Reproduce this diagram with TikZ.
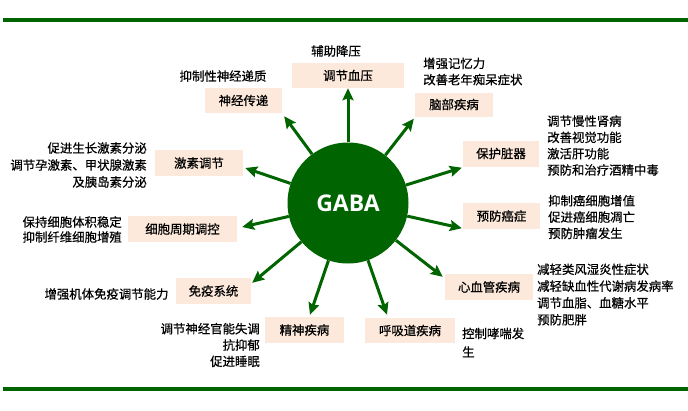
\documentclass[tikz,border=0pt]{standalone}
\usepackage{fontspec}
\setmainfont{Noto Sans CJK SC}[FakeBold=0.6]
\newfontfamily\gabafont{Open Sans}
\usetikzlibrary{arrows.meta}
\definecolor{gGreen}{RGB}{0,100,0}
\definecolor{boxPeach}{RGB}{252,233,219}
\tikzset{
  box/.style={fill=boxPeach, draw=none, inner sep=0pt, font=\fontsize{12.4}{15}\selectfont},
  lbl/.style={inner sep=0pt, font=\fontsize{12.4}{16.3}\selectfont},
  arr/.style={draw=gGreen, line width=3pt, -{Stealth[length=12pt,width=11pt,inset=2pt]}},
  rule/.style={draw=gGreen, line width=3.5pt}
}
\begin{document}
\begin{tikzpicture}[x=1pt,y=-1pt]
\useasboundingbox (0,0) rectangle (688,410);
% rules
\coordinate (t1) at (3,20); \coordinate (t2) at (688,20);
\coordinate (b1) at (3,389); \coordinate (b2) at (688,389);
\draw[rule] (t1) -- (t2);
\draw[rule] (b1) -- (b2);
% centre
\node[circle, fill=gGreen, minimum size=121pt, inner sep=0pt, text=white,
      font=\gabafont\bfseries\fontsize{23}{26}\selectfont] (gaba) at (348,203) {GABA};
% boxes
\node[box, minimum width=112pt, minimum height=25pt] (bp) at (348,75.5) {调节血压};
\node[box, minimum width=77pt, minimum height=25pt] (nt) at (243.5,100.5) {神经传递};
\node[box, minimum width=78pt, minimum height=24pt] (nb) at (454,104.5) {脑部疾病};
\node[box, minimum width=76pt, minimum height=26pt] (po) at (501,153.5) {保护脏器};
\node[box, minimum width=88pt, minimum height=26pt] (hr) at (199,163) {激素调节};
\node[box, minimum width=109pt, minimum height=26pt] (cc) at (182.5,229) {细胞周期调控};
\node[box, minimum width=77pt, minimum height=26pt] (pc) at (501.5,216) {预防癌症};
\node[box, minimum width=88pt, minimum height=26pt] (cv) at (489,287) {心血管疾病};
\node[box, minimum width=75pt, minimum height=26pt] (im) at (213.5,291) {免疫系统};
\node[box, minimum width=79pt, minimum height=26pt] (md) at (304.5,330) {精神疾病};
\node[box, minimum width=90pt, minimum height=25pt] (rd) at (410,330.5) {呼吸道疾病};
% labels
\node[lbl] (l1) at (336,51) {辅助降压};
\node[lbl] (l2) at (223,76) {抑制性神经递质};
\node[lbl, anchor=west, align=left] (l3) at (423,71.5) {增强记忆力\\改善老年痴呆症状};
\node[lbl, anchor=west, align=left] (l4) at (547,145.5) {调节慢性肾病\\改善视觉功能\\激活肝功能\\预防和治疗酒精中毒};
\node[lbl, anchor=west, align=left] (l5) at (548,217) {抑制癌细胞增值\\促进癌细胞凋亡\\预防肿瘤发生};
\node[lbl, anchor=west, align=left, font=\fontsize{12.4}{16.8}\selectfont] (l6) at (537,294.5) {减轻类风湿炎性症状\\减轻缺血性代谢病发病率\\调节血脂、血糖水平\\预防肥胖};
\node[lbl, anchor=east, align=right, font=\fontsize{12.4}{17}\selectfont] (l7) at (147,165) {促进生长激素分泌\\调节孕激素、甲状腺激素\\及胰岛素分泌};
\node[lbl, anchor=east, align=right, font=\fontsize{12.4}{15}\selectfont] (l8) at (122,229.5) {保持细胞体积稳定\\抑制纤维细胞增殖};
\node[lbl] (l9) at (106.5,294) {增强机体免疫调节能力};
\node[lbl, anchor=east, align=right] (l10) at (260,345) {调节神经官能失调\\抗抑郁\\促进睡眠};
\node[lbl, anchor=west, align=left, font=\fontsize{12.4}{18.5}\selectfont] (l11) at (462,342.5) {控制哮喘发\\生};
% arrows
\draw[arr] (gaba) -- (bp.south);
\draw[arr] (gaba) -- ([shift={(2,3)}]nt.south east);
\draw[arr] (gaba) -- ([shift={(-1,2)}]nb.south west);
\draw[arr] (gaba) -- ([shift={(-1,1)}]po.south west);
\draw[arr] (gaba) -- ([shift={(2,5)}]hr.east);
\draw[arr] (gaba) -- ([shift={(5,-2)}]cc.east);
\draw[arr] (gaba) -- ([shift={(-1,-1)}]pc.south west);
\draw[arr] (gaba) -- ([shift={(-2,3)}]cv.north west);
\draw[arr] (gaba) -- ([shift={(1,5)}]im.north east);
\draw[arr] (gaba) -- ([shift={(5.5,-2)}]md.north);
\draw[arr] (gaba) -- ([shift={(-23,-3)}]rd.north);
\end{tikzpicture}
\end{document}
